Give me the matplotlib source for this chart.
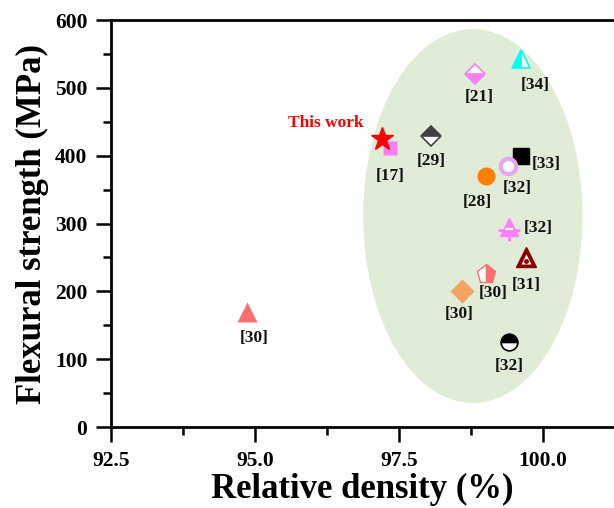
import matplotlib.pyplot as plt
from matplotlib.patches import Ellipse
from matplotlib.ticker import MultipleLocator

plt.rcParams['font.family'] = ['Liberation Serif', 'DejaVu Serif']
plt.rcParams['font.weight'] = 'bold'

# data: relative density (%), flexural strength (MPa)
refs = ['[17]', '[29]', '[21]', '[34]', '[33]', '[32]', '[28]', '[32]', '[31]', '[30]', '[30]', '[32]', '[30]']
density = [97.34, 98.06, 98.82, 99.62, 99.62, 99.39, 99.01, 99.41, 99.70, 99.01, 98.59, 99.41, 94.86]
strength = [411, 429, 521, 543, 400, 385, 370, 295, 250, 226, 200, 125, 170]
this_work = (97.20, 425)

# label offsets (points) for each reference
lab_dx = [0, 0, 3, 10, 18, 7, -6, 21, 0, 5, -2, 0, 5]
lab_dy = [-20, -18, -17, -19, -6, -16, -19, -1, -20, -14, -16, -17, -19]

ell_center = (98.78, 311)
ell_w, ell_h = 3.78, 549

fig = plt.figure(figsize=(6.14, 5.08), dpi=100)
ax = fig.add_axes([0.1808, 0.1594, 0.8192, 0.8012])

ax.add_patch(Ellipse(ell_center, ell_w, ell_h, color='#e0ecd6', zorder=0))

# marker styles
st = [
    dict(marker='s', ms=9.5, color='#f77ff5', mec='none'),
    dict(marker='D', ms=10, color='#404040', fillstyle='top', markerfacecoloralt='white', mec='#404040', mew=1.2),
    dict(marker='D', ms=10, color='#f77ff5', fillstyle='bottom', markerfacecoloralt='white', mec='#f77ff5', mew=1.2),
    dict(marker='^', ms=13, color='cyan', fillstyle='left', markerfacecoloralt='white', mec='cyan', mew=1.2),
    dict(marker='s', ms=11, color='black', mec='black'),
    dict(marker='o', ms=11, mfc='white', mec='#e8a4f0', mew=3),
    dict(marker='o', ms=13, color='#ff7f00', mec='none'),
    dict(marker='^', ms=13, color='#ff80ff', mec='#ff80ff'),
    dict(marker='^', ms=14, color='#8b0000', mec='#8b0000'),
    dict(marker='p', ms=14, color='#ff7070', fillstyle='right', markerfacecoloralt='white', mec='#ff7070', mew=1),
    dict(marker='D', ms=12, color='#f4a460', mec='none'),
    dict(marker='o', ms=12, color='black', fillstyle='top', markerfacecoloralt='white', mec='black', mew=1.2),
    dict(marker='^', ms=14, color='#ff6e6e', mec='none'),
]

for i in range(len(refs)):
    ax.plot(density[i], strength[i], linestyle='none', zorder=3, **st[i])
    ax.annotate(refs[i], (density[i], strength[i]), xytext=(lab_dx[i], lab_dy[i]),
                textcoords='offset points', ha='center', va='center',
                fontsize=12.5, fontweight='bold', color='#111111')

# extra detail on the crossed triangle and the nested triangle
ax.plot(density[7], strength[7] - 4, marker='+', ms=16, mew=2, color='#ff80ff', zorder=4)
ax.plot(density[7], strength[7] - 3, marker='_', ms=6, mew=1.5, color='white', zorder=5)
ax.plot(density[8], strength[8] - 2, marker='^', ms=7, color='white', mec='none', zorder=4)
ax.plot(density[8], strength[8] - 5, marker='o', ms=2.5, color='#8b0000', zorder=5)

ax.plot(this_work[0], this_work[1], marker='*', ms=17, color='red', zorder=4)
ax.annotate('This work', this_work, xytext=(-40, 11), textcoords='offset points',
            ha='center', va='center', fontsize=12.5, fontweight='bold', color='red')

ax.set_xlim(92.5, 101.23)
ax.set_ylim(0, 600)
ax.xaxis.set_major_locator(MultipleLocator(2.5))
ax.xaxis.set_minor_locator(MultipleLocator(1.25))
ax.yaxis.set_major_locator(MultipleLocator(100))
ax.yaxis.set_minor_locator(MultipleLocator(50))
ax.xaxis.set_major_formatter(plt.FormatStrFormatter('%.1f'))

for s in ['left', 'bottom', 'top']:
    ax.spines[s].set_linewidth(2)
ax.spines['right'].set_visible(False)
ax.tick_params(which='major', direction='out', length=11, width=1.8, labelsize=15.5, pad=6)
ax.tick_params(which='minor', direction='out', length=6, width=1.8)
ax.tick_params(top=False, which='both')

ax.set_xlabel('Relative density (%)', fontsize=25, fontweight='bold', labelpad=2)
ax.set_ylabel('Flexural strength (MPa)', fontsize=25, fontweight='bold', labelpad=4)

fig.savefig('out.png', dpi=100)
